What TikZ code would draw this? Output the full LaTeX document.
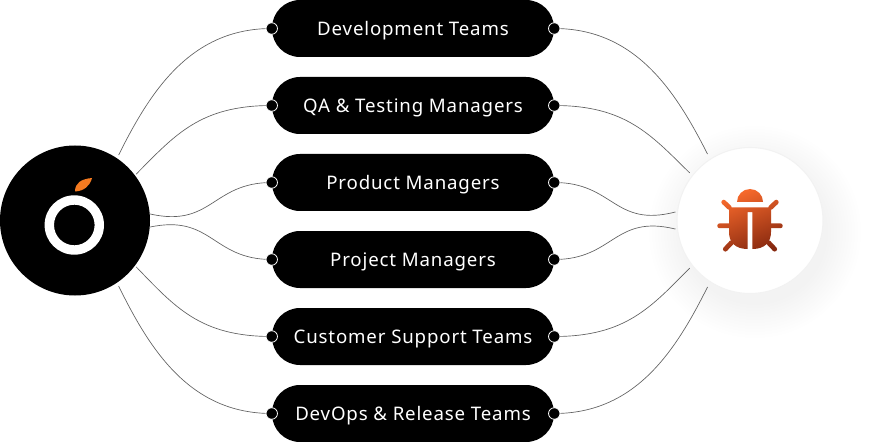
\documentclass[tikz,border=0pt]{standalone}
\usepackage{fontspec}
\setmainfont{Noto Sans}[LetterSpace=4.5]
\definecolor{leaf}{HTML}{F47A20}
\definecolor{bugA}{HTML}{FF6E2E}
\definecolor{bugB}{HTML}{86280F}
\newcommand{\bugpart}[1]{\begin{scope}\clip #1;\shade[top color=bugA,bottom color=bugB,shading angle=22] (716,186) rectangle (784,254);\end{scope}}
\tikzset{
  x=0.75pt,y=-0.75pt,
  pill/.style={fill=black,text=white,rounded corners=21pt,minimum width=211.5pt,minimum height=42.75pt,inner sep=0pt,text height=13pt,text depth=3.2pt,font=\fontsize{14}{16}\selectfont},
  dot/.style={circle,fill=black,draw=white,line width=0.6pt,minimum size=8.6pt,inner sep=0pt},
  link/.style={draw=black!62,line width=0.5pt},
}
\begin{document}
\begin{tikzpicture}
\useasboundingbox (0,0) rectangle (878,442);
% shadow of bug disc
\foreach \r in {106,103,...,73}{\fill[black,opacity=0.0042] (755,232) circle[radius=\r];}
% hubs
\node[circle,fill=black,minimum size=112.5pt,inner sep=0pt] (logo) at (75,220.5) {};
\node[circle,fill=white,draw=black!5,line width=0.8pt,minimum size=109.5pt,inner sep=0pt] (bug) at (750,220.5) {};
% pills
\node[pill] (p1) at (413,28.5) {Development Teams};
\node[pill] (p2) at (413,105.5) {QA \& Testing Managers};
\node[pill] (p3) at (413,182.5) {Product Managers};
\node[pill] (p4) at (413,259.5) {Project Managers};
\node[pill] (p5) at (413,336.5) {Customer Support Teams};
\node[pill] (p6) at (413,413.5) {DevOps \& Release Teams};
% connector ends
\foreach \i in {1,...,6}{
  \coordinate (l\i) at (p\i.west);
  \coordinate (r\i) at (p\i.east);
}
% left connectors
\draw[link,shorten <=2.6pt] (logo.56) .. controls (150,92) and (190,28.5) .. (l1);
\draw[link,shorten <=1pt] (logo.37) .. controls (175,135) and (200,105.5) .. (l2);
\draw[link] (logo.5) .. controls (212,228) and (212,182.5) .. (l3);
\draw[link] (logo.-5) .. controls (212,214) and (212,259.5) .. (l4);
\draw[link,shorten <=1pt] (logo.-37) .. controls (175,307) and (200,336.5) .. (l5);
\draw[link,shorten <=2.6pt] (logo.-56) .. controls (150,350) and (190,413.5) .. (l6);
% right connectors
\draw[link,shorten <=4pt] (bug.123) .. controls (676,92) and (636,28.5) .. (r1);
\draw[link,shorten <=2.5pt] (bug.142) .. controls (651,135) and (626,105.5) .. (r2);
\draw[link,shorten <=1.2pt] (bug.173) .. controls (614,228) and (614,182.5) .. (r3);
\draw[link,shorten <=1.2pt] (bug.-173) .. controls (614,214) and (614,259.5) .. (r4);
\draw[link,shorten <=2.5pt] (bug.-142) .. controls (651,307) and (626,336.5) .. (r5);
\draw[link,shorten <=4pt] (bug.-123) .. controls (676,350) and (636,413.5) .. (r6);
% dots
\foreach \i in {1,...,6}{
  \node[dot] (dl\i) at (l\i) {};
  \node[dot] (dr\i) at (r\i) {};
}
% logo mark
\fill[white,even odd rule] (74.3,225) circle[radius=29.7] (74.3,225) circle[radius=20.3];
\fill[leaf] (75,191.5) .. controls (75,183) and (81,179) .. (92,178) .. controls (90,186) and (84,191) .. cycle;
% bug icon
\bugpart{(737,202) arc[start angle=180,end angle=360,x radius=13,y radius=13] -- cycle}
\bugpart{(729,207.5) -- (771,207.5) -- (771,232) .. controls (771,242) and (765,249) .. (752.3,249) -- (752.3,212) -- (747.7,212) -- (747.7,249) .. controls (735,249) and (729,242) .. (729,232) -- cycle}
\bugpart{[rounded corners=1.7pt] (723.6,198.8) -- (732.6,207.3) -- (729.4,210.8) -- (720.4,202.3) -- cycle}
\bugpart{[rounded corners=1.7pt] (776.4,198.8) -- (767.4,207.3) -- (770.6,210.8) -- (779.6,202.3) -- cycle}
\bugpart{[rounded corners=1.7pt] (717.3,223.4) -- (731,223.4) -- (731,228.2) -- (717.3,228.2) -- cycle}
\bugpart{[rounded corners=1.7pt] (782.7,223.4) -- (769,223.4) -- (769,228.2) -- (782.7,228.2) -- cycle}
\bugpart{[rounded corners=1.7pt] (725.4,252.5) -- (722,249.2) -- (731.3,239.3) -- (734.7,242.7) -- cycle}
\bugpart{[rounded corners=1.7pt] (774.6,252.5) -- (778,249.2) -- (768.7,239.3) -- (765.3,242.7) -- cycle}
\end{tikzpicture}
\end{document}
